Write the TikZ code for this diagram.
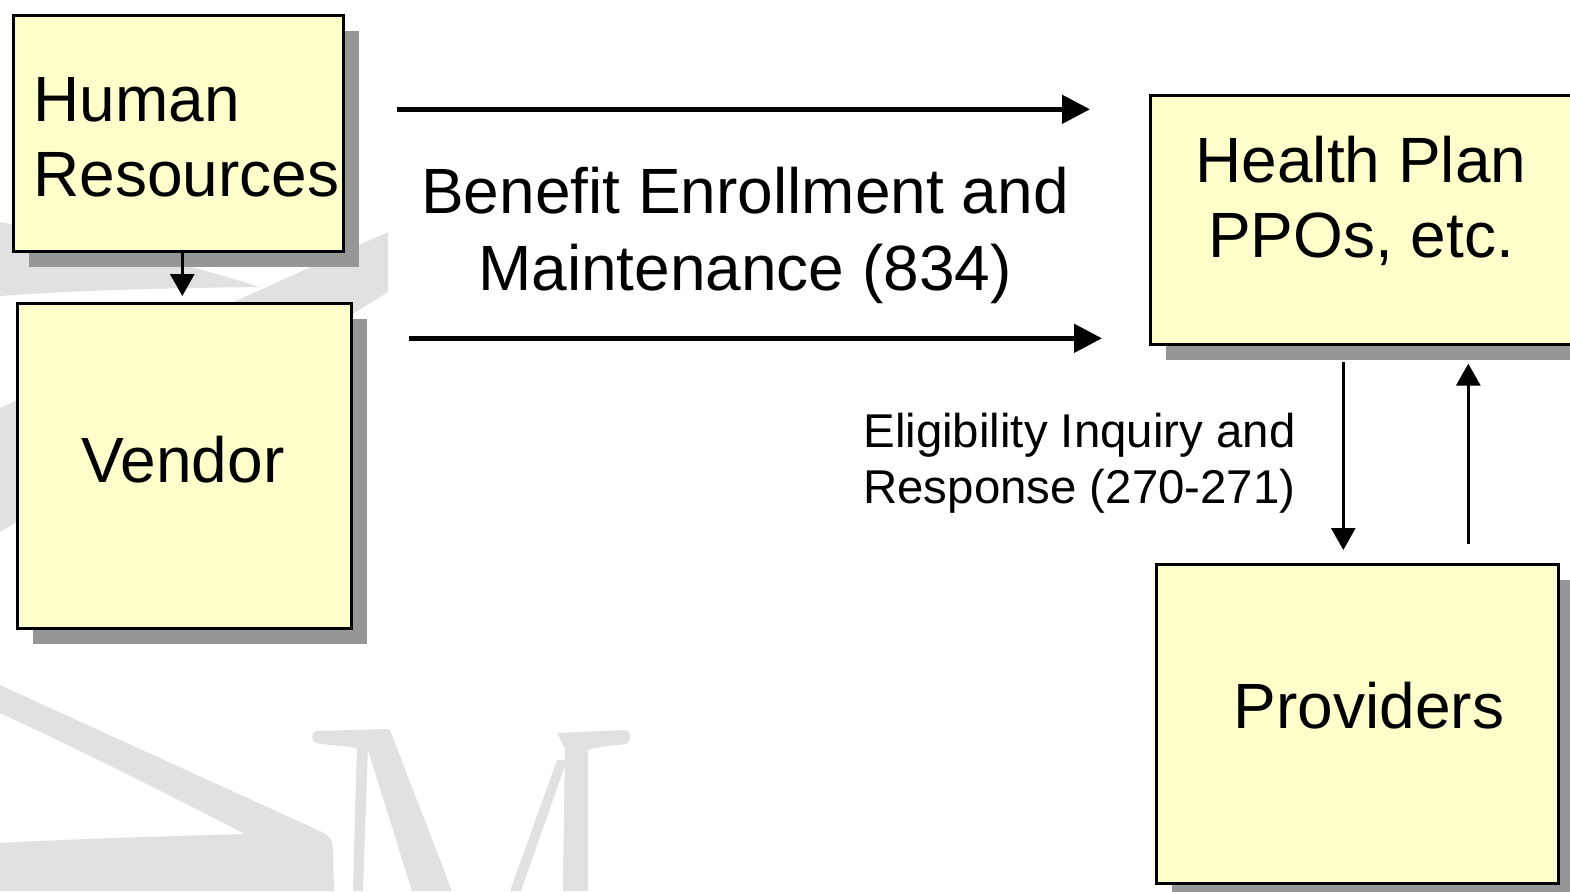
\documentclass[tikz,border=0pt]{standalone}
\usepackage{fontspec}
\setmainfont{Liberation Sans}
\usetikzlibrary{arrows.meta,shadows}
\definecolor{boxfill}{RGB}{255,255,204}
\definecolor{boxshade}{RGB}{150,150,150}
\definecolor{logo}{RGB}{225,225,225}
\begin{document}
\begin{tikzpicture}[x=0.5pt,y=-0.5pt,
  box/.style={draw=black, line width=1.3pt, fill=boxfill, rectangle, inner sep=0pt,
    anchor=north west,
    drop shadow={shadow xshift=8pt, shadow yshift=-8pt, opacity=1, fill=boxshade, draw=none}},
  big/.style={font=\fontsize{32}{38}\selectfont, inner sep=0pt},
  small/.style={font=\fontsize{23.7}{28}\selectfont, inner sep=0pt, anchor=base west},
  flow/.style={line width=2.5pt, -{Triangle[length=14pt,width=14pt]}},
  link/.style={line width=1.5pt, -{Triangle[length=11pt,width=12pt]}},
]
\useasboundingbox (0,0) rectangle (1570,891);
\clip (0,0) rectangle (1570,891);

% faint logo in the background
\fill[logo] (0,222) .. controls (90,240) and (180,262) .. (260,287)
  .. controls (170,288) and (80,290) .. (0,296) -- cycle;
\fill[logo] (388,232) -- (388,292) -- (0,532) -- (0,408) -- cycle;
\fill[logo] (0,685) .. controls (120,740) and (230,790) .. (322,832)
  .. controls (330,836) and (333,840) .. (333,850) -- (334,891) -- (0,891) -- (0,843)
  .. controls (90,838) and (180,836) .. (245,834)
  .. controls (160,790) and (80,750) .. (0,713) -- cycle;
% serif M
\fill[logo] (316,731) -- (388,729) -- (390,745) -- (357,748)
  .. controls (340,745) and (322,745) .. (316,743)
  .. controls (311,741) and (311,733) .. (316,731) -- cycle;
\fill[logo] (357,745) -- (368,745) -- (363,891) -- (353,891) -- cycle;
\fill[logo] (362,731) -- (390,730) -- (452,891) -- (412,891) -- cycle;
\fill[logo] (557,760) -- (567,760) -- (521,891) -- (510,891) -- cycle;
\fill[logo] (565,745) -- (588,745) -- (588,891) -- (563,891) -- cycle;
\fill[logo] (557,733) -- (625,730) .. controls (632,731) and (632,740) .. (626,744)
  .. controls (610,746) and (595,747) .. (588,750) -- (566,750) -- cycle;

% boxes
\node[box, minimum width=165pt, minimum height=118pt] (hr) at (12,14) {};
\node[box, minimum width=167pt, minimum height=162.5pt] (vendor) at (16,302) {};
\node[box, minimum width=212.5pt, minimum height=124.5pt] (hp) at (1149,94) {};
\node[box, minimum width=201pt, minimum height=159.5pt] (prov) at (1155,563) {};

% box texts
\node[big, anchor=base west] (hrA) at (33,121) {Human};
\node[big, anchor=base west] (hrB) at (33,196) {Resources};
\node[big, anchor=base] (vn) at (183,482) {Vendor};
\node[big, anchor=base] (hpA) at (1361,182) {Health Plan};
\node[big, anchor=base] (hpB) at (1361,257) {PPOs, etc.};
\node[big, anchor=base] (pv) at (1369,728) {Providers};

% transaction labels
\node[big, anchor=base] (beA) at (745,213) {Benefit Enrollment and};
\node[big, anchor=base] (beB) at (745,290) {Maintenance (834)};
\node[small] (elA) at (863,447) {Eligibility Inquiry and};
\node[small] (elB) at (863,503) {Response (270-271)};

% connectors
\draw[link] ([xshift=2pt]hr.south) -- ([xshift=-1pt,yshift=3pt]vendor.north);
\draw[flow] ([xshift=26pt,yshift=12pt]hr.east) -- ([xshift=-29.5pt,yshift=55.25pt]hp.west);
\draw[flow] ([xshift=28pt,yshift=63.75pt]vendor.east) -- ([xshift=-23.5pt,yshift=-59.25pt]hp.west);
\draw[link] ([xshift=-9.75pt,yshift=-8pt]hp.south) -- ([xshift=-7pt,yshift=6.5pt]prov.north);
\draw[link] ([xshift=55.5pt,yshift=9.75pt]prov.north) -- ([xshift=52.75pt,yshift=-9pt]hp.south);
\end{tikzpicture}
\end{document}
